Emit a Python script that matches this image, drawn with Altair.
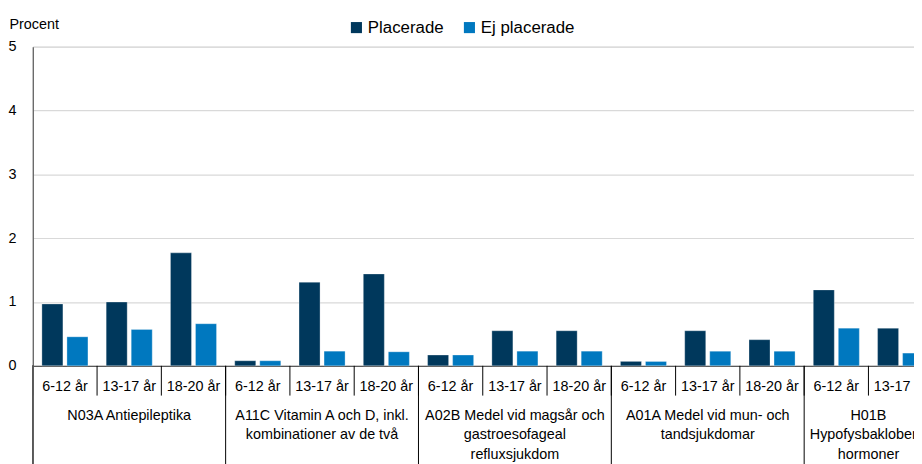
import altair as alt
import pandas as pd

drugs = [
    ["N03A Antiepileptika"],
    ["A11C Vitamin A och D, inkl.", "kombinationer av de två"],
    ["A02B Medel vid magsår och", "gastroesofageal", "refluxsjukdom"],
    ["A01A Medel vid mun- och", "tandsjukdomar"],
    ["H01B", "Hypofysbaklobens", "hormoner"],
]
ages = ["6-12 år", "13-17 år", "18-20 år"]
series = ["Placerade", "Ej placerade"]
placerade = [0.97, 1.00, 1.77, 0.08, 1.31, 1.44, 0.17, 0.55, 0.55, 0.07, 0.55, 0.41, 1.19, 0.59, 0.35]
ej_placerade = [0.455, 0.57, 0.66, 0.08, 0.23, 0.22, 0.17, 0.23, 0.23, 0.07, 0.23, 0.23, 0.59, 0.20, 0.15]
colors = ["#00385c", "#0078bf"]

slots = [f"{g}|{a}" for g in range(len(drugs)) for a in ages]

rows = []
for i, s in enumerate(slots):
    rows.append({"slot": s, "serie": series[0], "value": placerade[i]})
    rows.append({"slot": s, "serie": series[1], "value": ej_placerade[i]})
bars_df = pd.DataFrame(rows)

slot_df = pd.DataFrame({"slot": slots, "age": [s.split("|")[1] for s in slots]})
group_df = pd.DataFrame({"slot": [f"{g}|{ages[0]}" for g in range(len(drugs))]})
n_full = len(drugs) - 1
label_df = pd.DataFrame({"slot": [f"{g}|{ages[1]}" for g in range(n_full)],
                         "label": drugs[:n_full]})
# last group is cut by the chart edge: its label is centred on the visible part
last_df = pd.DataFrame({"slot": [f"{n_full}|{ages[0]}"], "label": [drugs[n_full]]})

W = 889
H = 322
step = 64.85
x_scale = alt.Scale(domain=slots, range=[0, step * len(slots)], paddingInner=0, paddingOuter=0,
                    round=False)
FONT = "Liberation Sans"
FS = 14.5

bars = alt.Chart(bars_df).mark_bar(stroke="#ffffff", strokeWidth=0.6, strokeOpacity=0.5).encode(
    x=alt.X("slot:N", scale=x_scale, sort=slots,
            axis=alt.Axis(title=None, labels=False, ticks=False,
                          domainColor="#595959", domainWidth=1.2)),
    xOffset=alt.XOffset("serie:N", sort=series,
                        scale=alt.Scale(domain=series, paddingInner=0.16, paddingOuter=0.364,
                                        round=False)),
    y=alt.Y("value:Q", scale=alt.Scale(domain=[0, 5]),
            axis=alt.Axis(values=[0, 1, 2, 3, 4, 5], format="d", title="Procent", titleAngle=0,
                          titleAlign="left", titleBaseline="alphabetic", titleX=-24, titleY=-18,
                          titleFontSize=FS, titleFontWeight="normal", titleFont=FONT,
                          titleColor="#000000",
                          ticks=False, labelPadding=17, labelFontSize=FS, labelColor="#000000",
                          labelFont=FONT, domainColor="#595959", domainWidth=1.2,
                          gridColor="#d9d9d9", gridWidth=1.2)),
    color=alt.Color("serie:N", sort=series, scale=alt.Scale(domain=series, range=colors),
                    legend=alt.Legend(orient="none", legendX=318, legendY=-28, direction="horizontal",
                                      title=None, symbolType="square", symbolSize=125,
                                      symbolStrokeWidth=0, labelFontSize=17, labelOffset=3,
                                      columnPadding=17, labelFont=FONT, labelColor="#000000")),
)

age_rules = alt.Chart(slot_df).mark_rule(color="#000000", strokeWidth=1).encode(
    x=alt.X("slot:N", scale=x_scale, sort=slots, bandPosition=0),
    y=alt.value(H), y2=alt.value(H + 30),
)

age_labels = alt.Chart(slot_df).mark_text(fontSize=FS, font=FONT, color="#000000",
                                          baseline="alphabetic", align="center").encode(
    x=alt.X("slot:N", scale=x_scale, sort=slots),
    y=alt.value(H + 25.5),
    text="age:N",
)

group_rules = alt.Chart(group_df).mark_rule(color="#000000", strokeWidth=1).encode(
    x=alt.X("slot:N", scale=x_scale, sort=slots, bandPosition=0),
    y=alt.value(H), y2=alt.value(H + 140),
)

y_ext = alt.Chart(group_df).mark_rule(color="#595959", strokeWidth=1.2).encode(
    x=alt.value(0), y=alt.value(H), y2=alt.value(H + 140),
)

labels = alt.Chart(label_df).mark_text(fontSize=FS, font=FONT, color="#000000", baseline="alphabetic",
                                       align="center", lineHeight=19.5).encode(
    x=alt.X("slot:N", scale=x_scale, sort=slots),
    y=alt.value(H + 54.7),
    text="label",
)

last_label = alt.Chart(last_df).mark_text(fontSize=FS, font=FONT, color="#000000",
                                          baseline="alphabetic", align="center",
                                          lineHeight=19.5).encode(
    x=alt.X("slot:N", scale=x_scale, sort=slots, bandPosition=1),
    y=alt.value(H + 54.7),
    text="label",
)

chart = alt.layer(bars, age_rules, age_labels, group_rules, y_ext, labels, last_label).properties(
    width=W, height=H,
    autosize=alt.AutoSizeParams(type="none"),
    padding={"left": 25, "top": 37, "right": 0, "bottom": 97},
).configure_view(stroke=None).configure(font=FONT)

chart.save("out.html", embed_options={"renderer": "svg", "actions": False})
